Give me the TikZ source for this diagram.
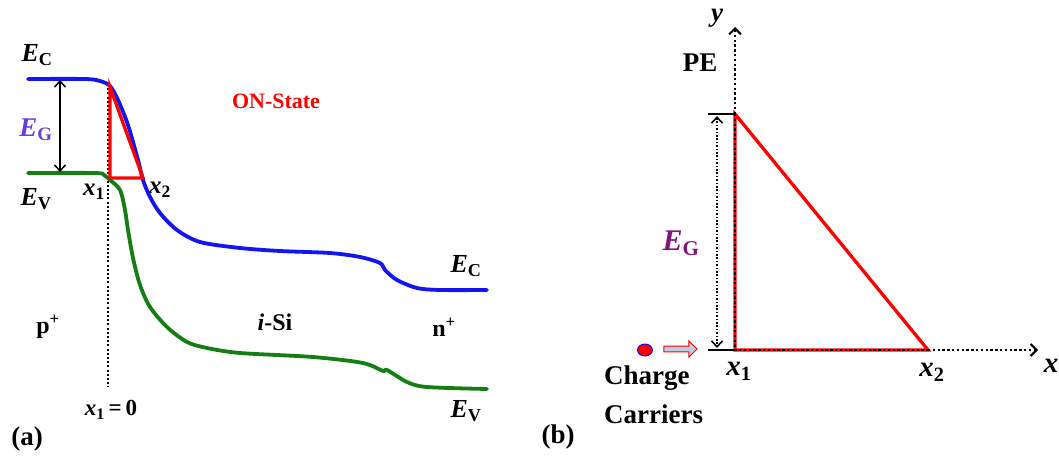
\documentclass[tikz,border=0pt]{standalone}
\usepackage{fontspec}
\setmainfont{Liberation Serif}
\usetikzlibrary{arrows.meta,shapes.arrows,shapes.geometric}
\definecolor{bandblue}{RGB}{20,20,245}
\definecolor{bandgreen}{RGB}{20,125,20}
\definecolor{egblue}{RGB}{105,60,220}
\definecolor{egpurple}{RGB}{128,20,128}
\definecolor{arrowfill}{RGB}{190,205,225}
\tikzset{
  lab/.style={inner sep=0pt, font=\fontsize{24}{26}\selectfont\bfseries},
  labb/.style={inner sep=0pt, font=\fontsize{27}{29}\selectfont\bfseries},
  band/.style={line width=3.8pt, line join=round, line cap=round},
  redtri/.style={red, line width=3.3pt, line join=miter},
  dotax/.style={black, line width=2.5pt, dash pattern=on 2.4pt off 2.4pt},
}
\begin{document}
\begin{tikzpicture}[x=1pt,y=-1pt]
\useasboundingbox (0,0) rectangle (1059,457);
% ---------- panel (a) ----------
\draw[black, line width=2pt, dash pattern=on 2pt off 2.2pt] (108,84) -- (108,387);
\draw[band, bandblue] plot[smooth, tension=0.5] coordinates {(28,79) (85,79) (100,81) (110,86) (118,100) (128,125) (138,160) (143,180) (150,197) (160,213) (177,230) (200,242) (240,248) (280,251) (330,253) (360,257) (380,263) (385,270) (397,280) (417,288) (440,290) (487,290)};
\draw[band, bandgreen] plot[smooth, tension=0.5] coordinates {(28,173) (95,173) (104,175) (110,180) (120,190) (125,210) (128,230) (133,258) (140,285) (150,307) (167,327) (187,342) (207,348) (240,353) (313,357) (363,363) (383,371) (387,370) (407,382) (427,387) (487,389)};
\coordinate (egtop) at (60,80);
\coordinate (egbot) at (60,172);
\draw[{Straight Barb[length=6pt,width=11pt]}-{Straight Barb[length=6pt,width=11pt]}, line width=1.5pt] (egtop) -- (egbot);
\coordinate (ta) at (110,87);
\coordinate (tb) at (110,178);
\coordinate (tc) at (143,178);
\draw[redtri] (ta) -- (tb) -- (tc) -- cycle;
\node[lab, font=\fontsize{26}{26}\selectfont\bfseries] (ecl) at (37,55) {\textit{E}\textsubscript{C}};
\node[lab, text=egblue, font=\fontsize{27}{27}\selectfont\bfseries] (eg) at (36,130) {\textit{E}\textsubscript{G}};
\node[lab, font=\fontsize{26}{26}\selectfont\bfseries] (evl) at (36,199) {\textit{E}\textsubscript{V}};
\node[lab, font=\fontsize{25}{26}\selectfont\bfseries] (x1a) at (94,192) {\textit{x}\textsubscript{1}};
\node[lab, font=\fontsize{25}{26}\selectfont\bfseries] (x2a) at (160,190) {\textit{x}\textsubscript{2}};
\node[lab, text=red, font=\fontsize{22}{24}\selectfont\bfseries] (on) at (276,101) {ON-State};
\node[lab] (pp) at (48,327) {p\textsuperscript{+}};
\node[lab] (isi) at (275,322) {\textit{i}-Si};
\node[lab] (np) at (444,327) {n\textsuperscript{+}};
\node[lab, font=\fontsize{26}{26}\selectfont\bfseries] (ecr) at (466,266) {\textit{E}\textsubscript{C}};
\node[lab, font=\fontsize{26}{26}\selectfont\bfseries] (evr) at (466,411) {\textit{E}\textsubscript{V}};
\node[lab, font=\fontsize{23}{24}\selectfont\bfseries] (x10) at (111,410) {\textit{x}\textsubscript{1}\,=\,0};
\node[labb] (pa) at (27,439) {(a)};
% ---------- panel (b) ----------
\coordinate (o) at (735,350);
\coordinate (top) at (735,114);
\coordinate (x2p) at (928,350);
\coordinate (yend) at (735,27);
\coordinate (xend) at (1038,350);
\draw[redtri] (top) -- (o) -- (x2p) -- cycle;
\draw[dotax, -{Straight Barb[length=6pt,width=12pt,line width=2pt]}] (top) -- (yend);
\draw[dotax, -{Straight Barb[length=6pt,width=12pt,line width=2pt]}] (x2p) -- (xend);
\draw[dotax, line width=2pt] (top) -- (o) -- (x2p);
\coordinate (tl) at (708,114);
\coordinate (bl) at (708,350);
\draw[line width=1.8pt] (tl) -- (top);
\draw[line width=1.8pt] (bl) -- (o);
\draw[black, line width=1.6pt, dash pattern=on 1.6pt off 1.8pt, {Straight Barb[length=6pt,width=11pt]}-{Straight Barb[length=6pt,width=11pt]}] (717,116) -- (717,348);
\node[labb, font=\fontsize{27}{28}\selectfont\bfseries\itshape] (ylab) at (717,18) {y};
\node[labb] (pe) at (700,63) {PE};
\node[labb, text=egpurple, font=\fontsize{30}{30}\selectfont\bfseries] (egb) at (681,243) {\textit{E}\textsubscript{G}};
\node[labb, font=\fontsize{29}{30}\selectfont\bfseries] (x1b) at (739,371) {\textit{x}\textsubscript{1}};
\node[labb, font=\fontsize{29}{30}\selectfont\bfseries] (x2b) at (932,372) {\textit{x}\textsubscript{2}};
\node[labb, font=\fontsize{29}{30}\selectfont\bfseries] (xlab) at (1051,366) {\textit{x}};
\node[ellipse, fill=red, draw=blue, line width=0.9pt, minimum width=15pt, minimum height=12pt, inner sep=0pt] (carrier) at (645,350) {};
\node[single arrow, fill=arrowfill, draw=red, line width=0.9pt, minimum height=33pt, minimum width=16pt, single arrow head extend=3.5pt, inner sep=1.5pt] (cArrow) at (679,349) {};
\node[labb, anchor=west] (charge) at (604,378) {Charge};
\node[labb, anchor=west] (carriers) at (604,414) {Carriers};
\node[labb] (pb) at (558,437) {(b)};
\end{tikzpicture}
\end{document}
